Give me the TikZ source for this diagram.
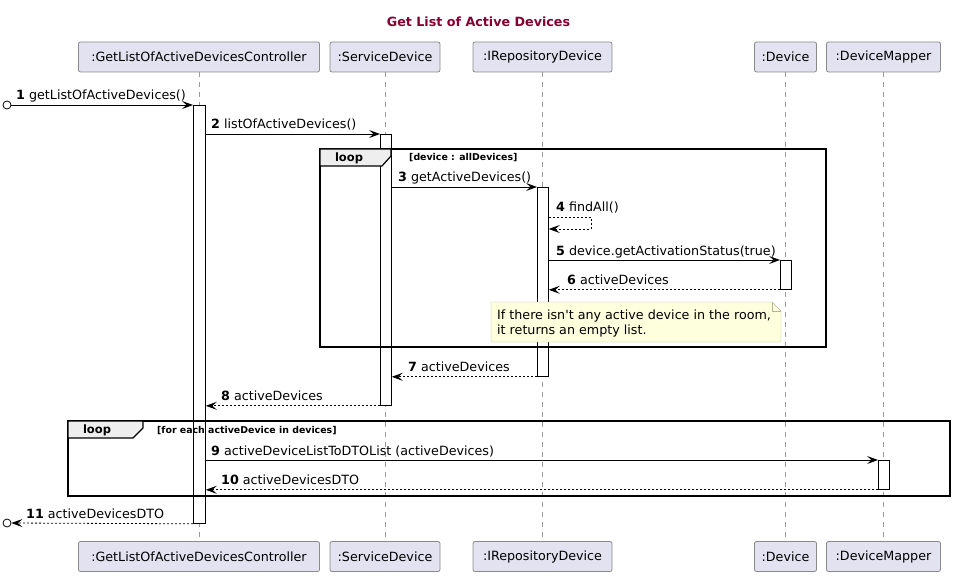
\documentclass[tikz,border=0pt]{standalone}
\usepackage{fontspec}
\setmainfont{DejaVu Sans}
\usetikzlibrary{arrows.meta,positioning}
\definecolor{partfill}{HTML}{E2E2F0}
\definecolor{partline}{HTML}{8A8A8A}
\definecolor{lifegray}{HTML}{9A9A9A}
\definecolor{titlered}{HTML}{850030}
\definecolor{notefill}{HTML}{FEFFDD}
\definecolor{noteline}{HTML}{B5B597}
\definecolor{tabfill}{HTML}{EEEEEE}

\begin{document}
\begin{tikzpicture}[x=1pt,y=-1pt,>={Stealth[length=11pt,width=8pt,inset=4.5pt]},
        every node/.style={font=\fontsize{12.7}{15}\selectfont},
        participant/.style={draw=partline,fill=partfill,rounded corners=2pt,minimum height=30pt,inner xsep=0pt,line width=0.8pt},
        lifeline/.style={draw=lifegray,dash pattern=on 5pt off 5pt,line width=0.6pt},
        activation/.style={draw,fill=white,minimum width=11pt,inner sep=0pt,anchor=north west,line width=0.8pt},
        call/.style={->,line width=0.8pt},
        reply/.style={->,line width=0.8pt,dash pattern=on 2pt off 2pt},
        msg/.style={anchor=base west,inner sep=0pt},
        endpoint/.style={draw,circle,minimum size=8pt,inner sep=0pt,line width=0.8pt},
        frame/.style={draw,line width=1.5pt},
        tab/.style={draw,fill=tabfill,line width=1.2pt},
        looptag/.style={font=\fontsize{11.5}{13}\selectfont\bfseries},
        guard/.style={anchor=base west,inner sep=0pt,font=\fontsize{9.4}{11}\selectfont\bfseries}]
        \useasboundingbox (0,0) rectangle (955,577);

        \node[text=titlered,font=\fontsize{12.7}{15}\selectfont\bfseries] (title) at (478.5,22) {Get List of Active Devices};

        \node[participant,minimum width=241pt] (ctrl_top) at (199,57) {:GetListOfActiveDevicesController};
        \node[participant,minimum width=110pt] (svc_top) at (385,57) {:ServiceDevice};
        \node[participant,minimum width=139pt] (repo_top) at (542.5,57) {:IRepositoryDevice};
        \node[participant,minimum width=62pt] (dev_top) at (785.5,57) {:Device};
        \node[participant,minimum width=114pt] (map_top) at (883.5,57) {:DeviceMapper};
        \node[participant,minimum width=241pt] (ctrl_bot) at (199,556.5) {:GetListOfActiveDevicesController};
        \node[participant,minimum width=110pt] (svc_bot) at (385,556.5) {:ServiceDevice};
        \node[participant,minimum width=139pt] (repo_bot) at (542.5,556.5) {:IRepositoryDevice};
        \node[participant,minimum width=62pt] (dev_bot) at (785.5,556.5) {:Device};
        \node[participant,minimum width=114pt] (map_bot) at (883.5,556.5) {:DeviceMapper};

        \foreach \p in {ctrl,svc,repo,dev,map}
            \draw[lifeline] (\p_top) -- (\p_bot);

        \node[activation,minimum width=12pt,minimum height=418pt] (act_ctrl) at (193,105) {};
        \node[activation,minimum height=271pt] (act_svc) at (380,134) {};
        \node[activation,minimum height=189pt] (act_repo) at (537,187) {};
        \node[activation,minimum height=29pt] (act_dev) at (780,260) {};
        \node[activation,minimum height=29pt] (act_map) at (878,460) {};

        \draw[frame] (320,149) rectangle (826,347);
        \draw[tab] (320,149) -- (391,149) -- (391,156) -- (382,166) -- (320,166) -- cycle;
        \node[looptag] (loop_dev) at (349,158) {loop};
        \node[guard] (guard_dev) at (409,161) {[device : allDevices]};

        \draw[frame] (68,421) rectangle (950,496);
        \draw[tab] (68,421) -- (143,421) -- (143,428) -- (133,438) -- (68,438) -- cycle;
        \node[looptag] (loop_map) at (97,430) {loop};
        \node[guard] (guard_map) at (157,433) {[for each activeDevice in devices]};

        \node[endpoint] (in_1) at (7,105) {};
        \node[endpoint] (out_11) at (7,523) {};
        \coordinate (self_a) at (591,217);
        \coordinate (self_b) at (591,229);

        \draw[call] (in_1) -- (act_ctrl.north west);
        \draw[call] (act_ctrl.east |- act_svc.north) -- (act_svc.north west);
        \draw[call] (act_svc.east |- act_repo.north) -- (act_repo.north west);
        \draw[reply] (act_repo.east |- self_a) -- (self_a) -- (self_b) -- (act_repo.east |- self_b);
        \draw[call] (act_repo.east |- act_dev.north) -- (act_dev.north west);
        \draw[reply] (act_dev.south west) -- (act_repo.east |- act_dev.south);
        \draw[reply] (act_repo.south west) -- (act_svc.east |- act_repo.south);
        \draw[reply] (act_svc.south west) -- (act_ctrl.east |- act_svc.south);
        \draw[call] (act_ctrl.east |- act_map.north) -- (act_map.north west);
        \draw[reply] (act_map.south west) -- (act_ctrl.east |- act_map.south);
        \draw[reply] (act_ctrl.south west) -- (out_11);

        \node[msg] (msg_1) at (16,100) {\textbf{1} getListOfActiveDevices()};
        \node[msg] (msg_2) at (211,129) {\textbf{2} listOfActiveDevices()};
        \node[msg] (msg_3) at (398,182) {\textbf{3} getActiveDevices()};
        \node[msg] (msg_4) at (556,212) {\textbf{4} findAll()};
        \node[msg] (msg_5) at (556,255) {\textbf{5} device.getActivationStatus(true)};
        \node[msg] (msg_6) at (567,284) {\textbf{6} activeDevices};
        \node[msg] (msg_7) at (408,371) {\textbf{7} activeDevices};
        \node[msg] (msg_8) at (221,400) {\textbf{8} activeDevices};
        \node[msg] (msg_9) at (211,455) {\textbf{9} activeDeviceListToDTOList (activeDevices)};
        \node[msg] (msg_10) at (221,484) {\textbf{10} activeDevicesDTO};
        \node[msg] (msg_11) at (26,518) {\textbf{11} activeDevicesDTO};

        \draw[draw=noteline,fill=notefill] (491,302) -- (772,302) -- (781,311) -- (781,342) -- (491,342) -- cycle;
        \draw[draw=noteline] (772,302) -- (772,311) -- (781,311);
        \node[anchor=north west,align=left,inner sep=0pt] (note) at (497,310) {If there isn\textquotesingle t any active device in the room,\\it returns an empty list.};
\end{tikzpicture}
\end{document}
